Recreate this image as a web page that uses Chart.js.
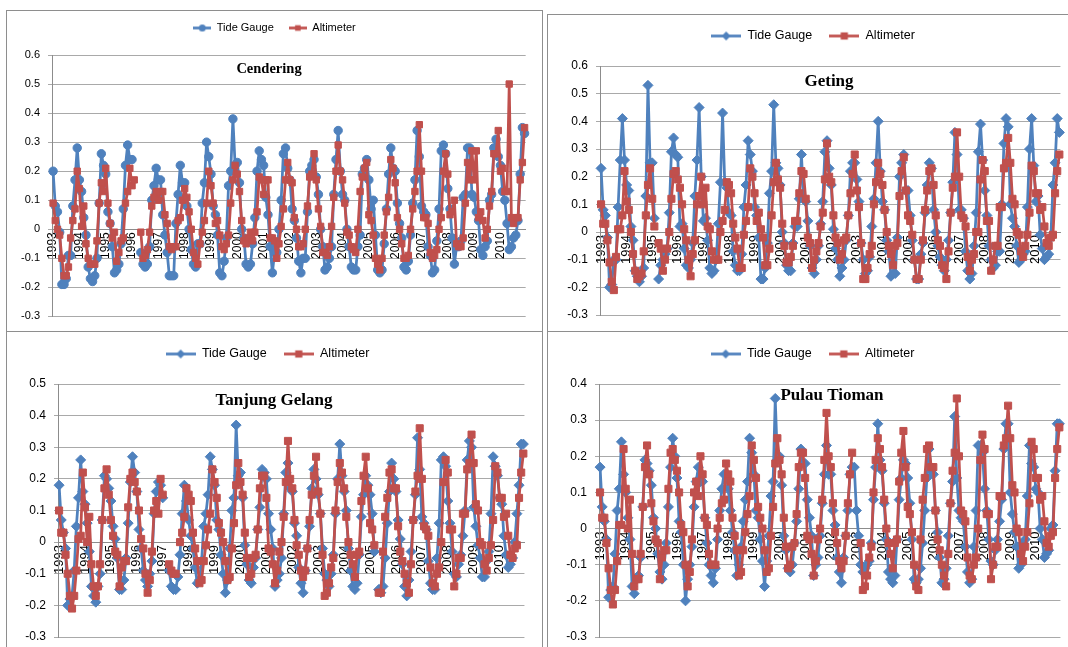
<!DOCTYPE html>
<html>
<head>
<meta charset="utf-8">
<script src="https://cdn.jsdelivr.net/npm/chart.js@4.4.1/dist/chart.umd.min.js"></script>
<style>
  body { margin: 0; background: #fff; width: 1068px; height: 647px; overflow: hidden; position: relative; }
  .panel { position: absolute; border: 1px solid #8e8e8e; background: #fff; overflow: hidden; }
  canvas { display: block; }
</style>
</head>
<body>
<div class="panel" style="left:6px;top:10px;width:535px;height:320px"><canvas id="c1" width="535" height="320"></canvas></div>
<div class="panel" style="left:547px;top:14px;width:530px;height:316px"><canvas id="c2" width="530" height="316"></canvas></div>
<div class="panel" style="left:6px;top:331px;width:535px;height:330px"><canvas id="c3" width="535" height="330"></canvas></div>
<div class="panel" style="left:547px;top:331px;width:530px;height:330px"><canvas id="c4" width="530" height="330"></canvas></div>

<script>
// monthly sea level anomalies (m), Jan 1993 - Dec 2010, one row per year
const years = [1993, 1994, 1995, 1996, 1997, 1998, 1999, 2000, 2001, 2002,
               2003, 2004, 2005, 2006, 2007, 2008, 2009, 2010];

const cenTide = [
  0.20, 0.08, 0.06, -0.01, -0.19, -0.19, -0.17, -0.09, -0.09, 0.08, 0.17, 0.28,
  0.17, 0.13, 0.04, -0.02, -0.13, -0.17, -0.18, -0.16, -0.10, 0.09, 0.26, 0.22,
  0.19, 0.06, 0.02, -0.06, -0.15, -0.14, -0.12, -0.05, 0.07, 0.22, 0.29, 0.24,
  0.24, null, null, null, -0.08, -0.12, -0.13, -0.12, -0.06, 0.10, 0.15, 0.21,
  0.17, 0.17, 0.05, -0.02, -0.08, -0.16, -0.16, -0.16, 0.02, 0.12, 0.22, 0.16,
  0.16, 0.08, 0.00, -0.07, -0.12, -0.13, -0.05, -0.05, 0.09, 0.16, 0.30, 0.25,
  0.19, 0.08, 0.05, -0.02, -0.15, -0.16, -0.11, -0.03, 0.15, 0.20, 0.38, 0.22,
  0.23, 0.16, 0.00, -0.03, -0.12, -0.13, -0.12, -0.05, 0.04, 0.20, 0.27, 0.24,
  0.22, 0.11, 0.05, -0.06, -0.15, -0.08, -0.08, 0.00, 0.10, 0.26, 0.28, 0.21,
  0.17, 0.07, 0.03, -0.03, -0.11, -0.15, -0.10, -0.10, 0.06, 0.20, 0.22, 0.24,
  0.18, 0.12, 0.00, -0.06, -0.14, -0.13, -0.10, -0.06, 0.12, 0.24, 0.34, 0.20,
  0.12, 0.10, 0.00, -0.06, -0.13, -0.14, -0.14, -0.06, -0.02, 0.19, 0.21, 0.24,
  0.17, 0.07, 0.10, -0.02, -0.14, -0.15, -0.14, -0.05, 0.07, 0.19, 0.28, 0.21,
  0.20, 0.09, 0.02, -0.03, -0.13, -0.14, -0.11, -0.02, 0.09, 0.17, 0.34, 0.25,
  0.08, 0.06, 0.05, -0.06, -0.09, -0.15, -0.14, -0.04, 0.07, 0.27, 0.29, 0.26,
  0.14, 0.07, -0.03, -0.12, -0.06, -0.06, -0.04, 0.11, 0.12, 0.28, 0.28, 0.12,
  0.11, 0.06, 0.03, -0.07, -0.09, -0.06, -0.04, 0.10, 0.12, 0.28, 0.31, 0.25,
  0.22, 0.13, 0.10, 0.02, -0.07, -0.06, -0.03, -0.02, 0.03, 0.19, 0.35, 0.33
];
const cenAlt = [
  0.09, 0.03, 0.00, -0.02, -0.10, -0.16, -0.16, -0.13, -0.03, 0.03, 0.07, 0.20,
  0.14, 0.01, 0.08, -0.05, -0.10, -0.12, -0.12, -0.12, -0.04, 0.09, 0.16, 0.13,
  0.21, 0.09, 0.02, -0.03, -0.01, -0.11, -0.08, -0.04, -0.03, 0.09, 0.13, 0.21,
  0.15, 0.17, null, null, -0.01, -0.10, -0.09, -0.07, -0.01, 0.08, 0.11, 0.13,
  0.10, 0.13, 0.13, 0.05, 0.02, -0.06, -0.07, -0.06, -0.06, 0.03, 0.04, 0.10,
  0.14, 0.11, 0.06, 0.00, -0.08, -0.10, -0.12, -0.05, -0.01, 0.03, 0.09, 0.20,
  0.15, 0.09, 0.02, 0.03, -0.02, -0.06, -0.07, -0.05, -0.02, 0.09, 0.17, 0.22,
  0.19, 0.13, 0.03, -0.04, -0.05, -0.03, -0.01, -0.04, -0.01, 0.06, 0.18, 0.17,
  0.12, 0.17, 0.17, -0.03, -0.03, -0.04, -0.10, -0.05, 0.01, 0.07, 0.17, 0.23,
  0.17, 0.16, 0.04, 0.00, -0.06, -0.06, -0.05, 0.00, 0.08, 0.18, 0.19, 0.26,
  0.17, 0.07, 0.01, -0.08, -0.08, -0.09, -0.06, 0.01, 0.11, 0.20, 0.29, 0.20,
  0.17, 0.09, -0.01, -0.02, -0.06, -0.07, -0.08, 0.00, 0.13, 0.18, 0.21, 0.23,
  0.05, 0.03, -0.02, -0.10, -0.12, -0.14, -0.10, -0.02, 0.06, 0.11, 0.24, 0.21,
  0.16, 0.04, 0.00, -0.05, -0.10, -0.10, -0.09, 0.00, 0.07, 0.13, 0.20, 0.36,
  0.20, 0.04, 0.04, 0.02, -0.08, -0.10, -0.09, -0.07, 0.00, 0.04, 0.20, 0.26,
  0.19, 0.05, 0.06, 0.10, -0.05, -0.06, -0.06, -0.03, 0.09, 0.23, 0.17, 0.27,
  0.17, 0.27, 0.04, 0.06, 0.03, -0.03, 0.00, 0.08, 0.13, 0.26, 0.26, 0.34,
  0.20, 0.21, 0.13, 0.13, 0.50, 0.04, 0.02, 0.04, 0.04, 0.17, 0.23, 0.35
];
const getTide = [
  0.23, 0.08, 0.06, -0.02, -0.20, -0.19, -0.10, -0.10, 0.09, 0.26, 0.41, 0.26,
  0.17, 0.15, 0.02, -0.03, -0.14, -0.16, -0.18, -0.16, -0.13, 0.13, 0.53, 0.25,
  0.25, 0.05, null, -0.17, -0.12, -0.10, -0.08, -0.06, 0.07, 0.29, 0.34, 0.28,
  0.27, 0.02, 0.03, -0.06, -0.12, -0.13, -0.10, -0.04, 0.13, 0.26, 0.45, 0.20,
  0.04, 0.05, -0.03, -0.13, -0.15, -0.14, -0.10, 0.03, 0.18, 0.43, 0.18, 0.16,
  0.07, 0.06, -0.07, -0.12, -0.14, -0.14, -0.08, 0.09, 0.17, 0.33, 0.28, 0.22,
  0.09, 0.06, -0.02, -0.17, -0.17, -0.13, -0.04, 0.14, 0.22, 0.46, 0.25, 0.23,
  0.17, 0.00, -0.04, -0.12, -0.14, -0.14, -0.04, 0.02, 0.02, 0.12, 0.28, 0.12,
  0.11, 0.04, -0.05, -0.13, -0.15, -0.10, -0.05, 0.03, 0.11, 0.29, 0.33, 0.23,
  0.17, 0.01, -0.06, -0.10, -0.16, -0.13, -0.10, -0.03, 0.06, 0.22, 0.25, 0.25,
  0.19, 0.11, -0.04, -0.10, -0.15, -0.14, -0.09, 0.02, 0.12, 0.25, 0.40, 0.22,
  0.11, 0.08, -0.03, -0.07, -0.16, -0.15, -0.15, -0.02, 0.20, 0.25, 0.28, 0.15,
  0.15, 0.06, -0.03, -0.10, -0.17, -0.17, -0.08, -0.04, 0.07, 0.17, 0.25, 0.23,
  0.08, 0.00, -0.05, -0.09, -0.12, -0.14, -0.10, -0.03, 0.07, 0.18, 0.36, 0.28,
  0.08, 0.08, 0.05, -0.07, -0.14, -0.17, -0.15, -0.05, 0.07, 0.29, 0.39, 0.26,
  0.15, 0.06, -0.05, -0.10, -0.13, -0.12, -0.07, -0.07, 0.10, 0.32, 0.41, 0.38,
  0.10, 0.05, 0.02, -0.05, -0.11, -0.10, -0.08, -0.07, 0.09, 0.30, 0.41, 0.24,
  0.11, 0.13, -0.01, -0.06, -0.10, -0.09, -0.08, -0.02, 0.17, 0.25, 0.41, 0.36
];
const getAlt = [
  0.10, 0.03, 0.03, -0.03, -0.11, -0.18, -0.21, -0.09, 0.01, 0.01, 0.06, 0.22,
  0.11, 0.08, 0.00, -0.08, -0.14, -0.17, -0.16, -0.15, -0.07, 0.06, 0.17, 0.23,
  0.12, 0.02, null, -0.04, -0.06, -0.14, -0.10, -0.06, 0.00, 0.12, 0.21, 0.22,
  0.19, 0.16, 0.10, 0.01, -0.03, -0.10, -0.16, -0.08, -0.03, 0.10, 0.13, 0.20,
  0.10, 0.16, 0.02, 0.01, -0.07, -0.10, -0.10, -0.10, 0.00, 0.04, 0.08, 0.18,
  0.17, 0.14, 0.03, -0.02, -0.06, -0.13, -0.13, -0.01, 0.04, 0.09, 0.23, 0.20,
  0.14, 0.04, 0.07, 0.01, -0.02, -0.12, -0.12, -0.06, 0.06, 0.18, 0.25, 0.19,
  0.16, 0.03, -0.05, -0.11, -0.11, -0.09, -0.05, 0.04, 0.04, 0.14, 0.22, 0.21,
  0.12, -0.02, -0.04, -0.13, -0.10, -0.07, -0.04, 0.02, 0.07, 0.19, 0.32, 0.20,
  0.18, 0.06, -0.02, -0.04, -0.10, -0.08, -0.03, -0.02, 0.06, 0.14, 0.21, 0.28,
  0.15, 0.09, -0.04, -0.17, -0.17, -0.13, -0.08, -0.05, 0.10, 0.18, 0.25, 0.21,
  0.17, 0.08, 0.00, -0.05, -0.08, -0.12, -0.05, -0.04, 0.13, 0.22, 0.27, 0.15,
  0.06, 0.04, -0.01, -0.10, -0.17, -0.17, -0.10, -0.03, 0.08, 0.15, 0.22, 0.23,
  0.17, 0.06, -0.03, -0.05, -0.12, -0.13, -0.17, -0.07, 0.07, 0.16, 0.20, 0.36,
  0.20, 0.06, 0.05, 0.02, -0.09, -0.14, -0.10, -0.08, 0.00, 0.00, 0.19, 0.26,
  0.22, 0.04, 0.04, -0.14, -0.10, -0.05, -0.05, 0.09, 0.09, 0.23, 0.25, 0.34,
  0.25, 0.12, 0.10, 0.00, -0.01, -0.07, -0.09, -0.05, -0.01, 0.07, 0.24, 0.22,
  0.14, 0.14, 0.08, 0.09, 0.02, -0.04, -0.05, -0.02, -0.01, 0.14, 0.22, 0.28
];
const tgTide = [
  0.18, 0.07, 0.03, -0.02, -0.20, -0.18, -0.17, -0.09, 0.05, 0.14, 0.26, 0.16,
  0.12, 0.06, -0.03, -0.14, -0.17, -0.19, -0.14, -0.10, 0.07, 0.21, 0.20, 0.17,
  0.13, 0.05, 0.01, -0.05, -0.15, -0.15, -0.12, -0.05, 0.06, 0.19, 0.27, 0.22,
  0.16, 0.04, -0.02, -0.09, -0.12, -0.14, -0.10, -0.06, 0.09, 0.16, 0.19, 0.18,
  0.14, null, null, -0.09, -0.14, -0.15, -0.15, -0.11, -0.04, 0.09, 0.18, 0.13,
  0.07, 0.02, -0.02, -0.08, -0.13, -0.12, -0.06, 0.05, 0.09, 0.15, 0.27, 0.23,
  0.18, 0.07, 0.04, -0.04, -0.10, -0.16, -0.12, -0.02, 0.10, 0.14, 0.37, 0.21,
  0.22, 0.14, -0.01, -0.07, -0.12, -0.13, -0.08, -0.05, 0.04, 0.11, 0.23, 0.22,
  0.20, 0.09, 0.04, -0.02, -0.14, -0.12, -0.10, -0.05, 0.09, 0.22, 0.25, 0.17,
  0.16, 0.06, 0.02, -0.08, -0.13, -0.16, -0.09, -0.02, 0.05, 0.17, 0.23, 0.20,
  0.15, 0.09, -0.02, -0.10, -0.12, -0.14, -0.10, -0.04, 0.09, 0.20, 0.31, 0.21,
  0.16, 0.10, -0.02, -0.09, -0.14, -0.15, -0.13, -0.04, 0.08, 0.15, 0.21, 0.18,
  0.15, 0.09, -0.03, null, -0.15, -0.16, -0.14, -0.05, 0.06, 0.16, 0.25, 0.20,
  0.16, 0.07, 0.01, -0.07, -0.14, -0.17, -0.12, -0.03, 0.07, 0.15, 0.33, 0.23,
  0.08, 0.06, 0.04, -0.06, -0.13, -0.15, -0.15, -0.05, 0.06, 0.26, 0.27, 0.24,
  0.13, 0.06, -0.03, -0.10, -0.11, -0.07, -0.04, 0.02, 0.10, 0.26, 0.32, 0.30,
  0.11, 0.05, -0.01, -0.05, -0.11, -0.11, -0.06, -0.03, 0.09, 0.27, 0.24, 0.21,
  0.14, 0.12, 0.02, -0.04, -0.08, -0.07, -0.05, 0.00, 0.09, 0.18, 0.31, 0.31
];
const tgAlt = [
  0.10, 0.03, 0.03, -0.04, -0.10, -0.17, -0.21, -0.17, -0.09, 0.01, 0.02, 0.22,
  0.11, 0.00, 0.08, -0.07, -0.14, -0.17, -0.14, -0.07, 0.07, 0.17, 0.23, 0.15,
  0.07, 0.02, -0.03, -0.04, -0.14, -0.08, -0.06, -0.06, 0.11, 0.20, 0.22, 0.19,
  0.16, 0.10, 0.01, -0.02, -0.10, -0.16, -0.12, -0.03, 0.10, 0.13, 0.09, 0.20,
  0.15, null, null, -0.07, -0.09, -0.10, -0.10, null, 0.00, 0.03, 0.08, 0.17,
  0.15, 0.13, 0.03, -0.02, -0.06, -0.13, -0.12, -0.06, -0.01, 0.04, 0.09, 0.23,
  0.19, 0.14, 0.06, 0.03, 0.00, -0.06, -0.12, -0.11, -0.02, 0.06, 0.18, 0.25,
  0.19, 0.15, 0.03, -0.05, -0.11, -0.10, -0.05, -0.04, 0.04, 0.17, 0.21, 0.21,
  0.14, -0.02, -0.03, -0.07, -0.13, -0.09, -0.03, 0.00, 0.08, 0.19, 0.32, 0.20,
  0.17, 0.07, -0.01, -0.04, -0.09, -0.11, -0.09, -0.02, 0.07, 0.15, 0.21, 0.27,
  0.16, 0.09, -0.04, -0.17, -0.16, -0.13, -0.08, -0.05, 0.10, 0.19, 0.25, 0.22,
  0.17, 0.08, 0.00, -0.04, -0.07, -0.11, -0.04, -0.03, 0.13, 0.21, 0.27, 0.17,
  0.06, 0.04, -0.01, null, -0.16, -0.16, -0.03, 0.08, 0.14, 0.22, 0.23, 0.17,
  0.17, 0.05, -0.03, -0.06, -0.10, -0.13, -0.16, -0.07, 0.07, 0.16, 0.21, 0.36,
  0.20, 0.05, 0.04, 0.02, -0.08, -0.13, -0.14, -0.10, -0.08, 0.00, 0.19, 0.26,
  0.22, 0.04, 0.04, -0.14, -0.10, -0.05, -0.05, 0.09, 0.09, 0.23, 0.25, 0.34,
  0.25, 0.12, 0.10, 0.00, -0.01, -0.07, -0.09, -0.05, -0.01, 0.07, 0.24, 0.22,
  0.14, 0.14, 0.08, 0.09, 0.02, -0.04, -0.05, -0.02, -0.01, 0.14, 0.22, 0.28
];
const ptTide = [
  0.17, 0.06, 0.02, -0.03, -0.19, -0.17, -0.16, -0.07, 0.05, 0.11, 0.24, 0.15,
  0.10, 0.03, -0.03, -0.16, -0.18, -0.14, -0.13, -0.08, 0.06, 0.19, 0.18, 0.16,
  0.12, 0.03, 0.00, -0.07, -0.12, -0.14, -0.10, -0.04, 0.06, 0.17, 0.25, 0.20,
  0.14, 0.02, -0.01, -0.10, -0.20, -0.14, -0.10, -0.05, 0.06, 0.13, 0.17, 0.13,
  0.13, 0.03, -0.04, -0.10, -0.13, -0.15, -0.11, -0.03, 0.05, 0.11, 0.15, 0.15,
  0.11, 0.05, -0.01, -0.06, -0.13, -0.10, -0.05, 0.02, 0.08, 0.13, 0.25, 0.21,
  0.15, 0.05, 0.03, -0.03, -0.09, -0.16, -0.09, -0.02, 0.09, 0.13, 0.36, 0.19,
  0.20, 0.12, -0.02, -0.06, -0.11, -0.12, -0.10, -0.04, 0.02, 0.11, 0.22, 0.18,
  0.18, 0.08, 0.03, -0.02, -0.13, -0.10, -0.08, -0.02, 0.07, 0.15, 0.23, 0.15,
  0.15, 0.05, 0.01, -0.08, -0.12, -0.15, -0.08, -0.02, 0.05, 0.15, 0.17, 0.17,
  0.05, -0.02, -0.10, -0.12, -0.11, -0.10, -0.09, -0.04, 0.08, 0.17, 0.29, 0.19,
  0.16, 0.07, -0.03, -0.12, -0.14, -0.15, -0.13, -0.03, 0.08, 0.14, 0.19, 0.18,
  0.14, 0.07, -0.03, -0.14, -0.15, -0.14, -0.11, -0.04, 0.05, 0.14, 0.22, 0.16,
  0.15, 0.05, -0.01, -0.08, -0.15, -0.14, -0.11, -0.02, 0.07, 0.13, 0.31, 0.14,
  0.05, 0.03, 0.02, -0.05, -0.12, -0.15, -0.14, -0.05, 0.05, 0.23, 0.23, 0.21,
  0.11, 0.05, -0.03, -0.09, -0.10, -0.06, -0.03, 0.02, 0.08, 0.22, 0.29, 0.29,
  0.10, 0.04, -0.01, -0.05, -0.11, -0.10, -0.04, -0.03, 0.09, 0.23, 0.18, 0.17,
  0.11, 0.10, 0.00, -0.03, -0.08, -0.07, -0.06, 0.00, 0.01, 0.16, 0.29, 0.29
];
const ptAlt = [
  0.10, 0.03, 0.03, -0.04, -0.11, -0.17, -0.21, -0.17, -0.09, 0.01, 0.01, 0.22,
  0.11, 0.00, 0.08, -0.07, -0.16, -0.14, -0.14, -0.07, 0.06, 0.17, 0.23, 0.15,
  0.07, 0.02, -0.03, -0.04, -0.14, -0.08, -0.06, -0.06, 0.11, 0.21, 0.22, 0.19,
  0.16, 0.10, 0.01, -0.01, -0.10, -0.16, -0.12, -0.03, 0.10, 0.13, 0.09, 0.20,
  0.15, 0.03, 0.01, -0.07, -0.10, -0.10, -0.10, 0.00, 0.03, 0.07, 0.08, 0.18,
  0.15, 0.13, 0.03, -0.02, -0.06, -0.13, -0.12, -0.06, -0.01, 0.04, 0.09, 0.23,
  0.19, 0.14, 0.06, 0.03, 0.00, -0.06, -0.12, -0.11, -0.02, 0.06, 0.18, 0.25,
  0.19, 0.15, 0.03, -0.05, -0.11, -0.10, -0.05, -0.04, 0.04, 0.17, 0.21, 0.21,
  0.14, -0.02, -0.03, -0.07, -0.13, -0.09, -0.03, 0.00, 0.08, 0.19, 0.32, 0.20,
  0.17, 0.07, -0.01, -0.04, -0.09, -0.11, -0.09, -0.02, 0.07, 0.15, 0.21, null,
  null, null, -0.04, -0.17, -0.16, -0.13, -0.08, -0.05, 0.10, 0.19, 0.25, 0.22,
  0.17, 0.08, 0.00, -0.04, -0.07, -0.11, -0.04, -0.03, 0.13, 0.21, 0.27, 0.17,
  0.06, 0.04, -0.01, -0.10, -0.16, -0.17, -0.03, 0.08, 0.14, 0.22, 0.23, 0.17,
  0.17, 0.05, -0.03, -0.06, -0.10, -0.13, -0.16, -0.07, 0.07, 0.16, 0.21, 0.36,
  0.20, 0.05, 0.04, 0.02, -0.08, -0.13, -0.14, -0.10, -0.08, 0.00, 0.19, 0.26,
  0.22, 0.04, 0.04, -0.14, -0.10, -0.05, -0.05, 0.09, 0.09, 0.23, 0.25, 0.34,
  0.25, 0.12, 0.10, 0.00, -0.01, -0.07, -0.09, -0.05, -0.01, 0.07, 0.24, 0.22,
  0.14, 0.14, 0.08, 0.09, 0.02, -0.04, -0.05, -0.02, -0.01, 0.14, 0.22, 0.28
];

// category labels: the year on each January, blank for other months
const labels = [];
years.forEach(y => { for (let m = 0; m < 12; m++) labels.push(m === 0 ? String(y) : ''); });

const BLUE = '#4f81bd';
const RED = '#c0504d';

// legend symbol: a short line with the marker in the middle (Excel style)
function legendIcon(color, style, w, r) {
  const c = document.createElement('canvas');
  c.width = w; c.height = 2 * r + 4;
  const g = c.getContext('2d');
  const cy = c.height / 2, cx = w / 2;
  g.strokeStyle = color; g.fillStyle = color; g.lineWidth = 2.75;
  g.beginPath(); g.moveTo(0, cy); g.lineTo(w, cy); g.stroke();
  g.beginPath();
  if (style === 'circle') g.arc(cx, cy, r, 0, Math.PI * 2);
  else if (style === 'rectRot') { g.moveTo(cx, cy - r); g.lineTo(cx + r, cy); g.lineTo(cx, cy + r); g.lineTo(cx - r, cy); g.closePath(); }
  else g.rect(cx - r * 0.8, cy - r * 0.8, r * 1.6, r * 1.6);
  g.fill();
  return c;
}

// station name drawn inside the plot area, like the Excel overlay title
const innerTitle = {
  id: 'innerTitle',
  afterDatasetsDraw(chart, args, o) {
    if (!o.text) return;
    const ctx = chart.ctx;
    ctx.save();
    ctx.font = 'bold ' + o.size + 'px "Liberation Serif", "Times New Roman", serif';
    ctx.fillStyle = '#000';
    ctx.textAlign = 'center';
    ctx.textBaseline = 'middle';
    ctx.fillText(o.text, o.x, o.y);
    ctx.restore();
  }
};

function makeChart(id, o) {
  const icons = [
    legendIcon(BLUE, o.tideStyle, o.iconW, o.legendR),
    legendIcon(RED, 'rect', o.iconW, o.legendR)
  ];
  const opts = {
    responsive: false,
    animation: false,
    events: [],
    layout: { padding: { left: o.padL, right: o.W - o.R, top: 0, bottom: o.H - o.B } },
    plugins: {
      legend: {
        weight: 3000,
        labels: {
          usePointStyle: true,
          pointStyleWidth: o.iconW,
          boxHeight: o.legendSize,
          padding: o.legendGap,
          color: '#000',
          font: { family: '"Liberation Sans", Arial, sans-serif', size: o.legendSize },
          sort: (a, b) => a.datasetIndex - b.datasetIndex,
          generateLabels: chart => Chart.defaults.plugins.legend.labels.generateLabels(chart)
            .map(it => Object.assign(it, { pointStyle: icons[it.datasetIndex] }))
        }
      },
      title: { display: true, text: '', padding: { top: 0, bottom: 10 }, font: { size: 1, lineHeight: 1 } },
      tooltip: { enabled: false },
      innerTitle: { text: o.title, x: o.tx, y: o.ty, size: o.tsize }
    },
    scales: {
      x: {
        type: 'category',
        position: { y: 0 },
        offset: true,
        grid: { display: false, drawTicks: false },
        border: { color: '#8c8c8c', width: 1 },
        ticks: {
          autoSkip: false, maxRotation: 90, minRotation: 90, padding: 3, color: '#000',
          font: { family: '"Liberation Sans", Arial, sans-serif', size: o.xSize }
        }
      },
      y: {
        min: -0.3,
        max: o.ymax,
        afterFit: s => { s.width = o.L - o.padL; },
        grid: { color: '#a9a9a9', lineWidth: 1, tickLength: 4 },
        border: { color: '#8c8c8c', width: 1 },
        ticks: {
          stepSize: 0.1, padding: 8, color: '#000',
          font: { family: '"Liberation Sans", Arial, sans-serif', size: o.ySize },
          callback: v => String(Math.round(v * 10) / 10)
        }
      }
    }
  };
  const line = {
    borderWidth: 2.75, borderJoinStyle: 'round', borderCapStyle: 'round',
    pointBorderWidth: 1, tension: 0, spanGaps: false
  };
  const chart = new Chart(document.getElementById(id), {
    type: 'line',
    data: {
      labels: labels,
      datasets: [
        Object.assign({
          label: 'Tide Gauge', data: o.tide, order: 2,
          borderColor: BLUE, backgroundColor: BLUE,
          pointStyle: o.tideStyle, pointRadius: o.tideR,
          pointBorderColor: BLUE, pointBackgroundColor: BLUE
        }, line),
        Object.assign({
          label: 'Altimeter', data: o.alt, order: 1,
          borderColor: RED, backgroundColor: RED,
          pointStyle: 'rect', pointRadius: o.altR,
          pointBorderColor: RED, pointBackgroundColor: RED
        }, line)
      ]
    },
    options: opts,
    plugins: [innerTitle]
  });

  // shift legend row and plot top to where the reference has them
  const hb = chart.legend.legendHitBoxes[0];
  const dy = o.legendY - (hb.top + hb.height / 2);
  opts.layout.padding.top += dy;
  opts.plugins.title.padding.bottom = Math.max(0, opts.plugins.title.padding.bottom + (o.T - chart.chartArea.top) - dy);
  chart.update();
  return chart;
}

makeChart('c1', {
  tide: cenTide, alt: cenAlt, title: 'Cendering', tideStyle: 'circle', ymax: 0.6,
  W: 535, H: 320, L: 45, T: 44, R: 522, B: 306, padL: 13,
  legendY: 17, legendSize: 11, legendGap: 15, iconW: 18, legendR: 3.5,
  tx: 262, ty: 58, tsize: 14.5, xSize: 12, ySize: 11, tideR: 4.2, altR: 4.5
});
makeChart('c2', {
  tide: getTide, alt: getAlt, title: 'Geting', tideStyle: 'rectRot', ymax: 0.6,
  W: 530, H: 316, L: 52, T: 51, R: 515, B: 300, padL: 15,
  legendY: 21, legendSize: 12.5, legendGap: 17, iconW: 30, legendR: 4.5,
  tx: 281, ty: 67, tsize: 17, xSize: 13, ySize: 12, tideR: 5, altR: 5
});
makeChart('c3', {
  tide: tgTide, alt: tgAlt, title: 'Tanjung Gelang', tideStyle: 'rectRot', ymax: 0.5,
  W: 535, H: 330, L: 51, T: 52, R: 519, B: 305, padL: 2,
  legendY: 22, legendSize: 12.5, legendGap: 17, iconW: 30, legendR: 4.5,
  tx: 267, ty: 69, tsize: 17, xSize: 13, ySize: 12, tideR: 5, altR: 5
});
makeChart('c4', {
  tide: ptTide, alt: ptAlt, title: 'Pulau Tioman', tideStyle: 'rectRot', ymax: 0.4,
  W: 530, H: 330, L: 51, T: 52, R: 515, B: 305, padL: 14,
  legendY: 22, legendSize: 12.5, legendGap: 17, iconW: 30, legendR: 4.5,
  tx: 284, ty: 64, tsize: 17, xSize: 13, ySize: 12, tideR: 5, altR: 5
});
</script>
</body>
</html>
